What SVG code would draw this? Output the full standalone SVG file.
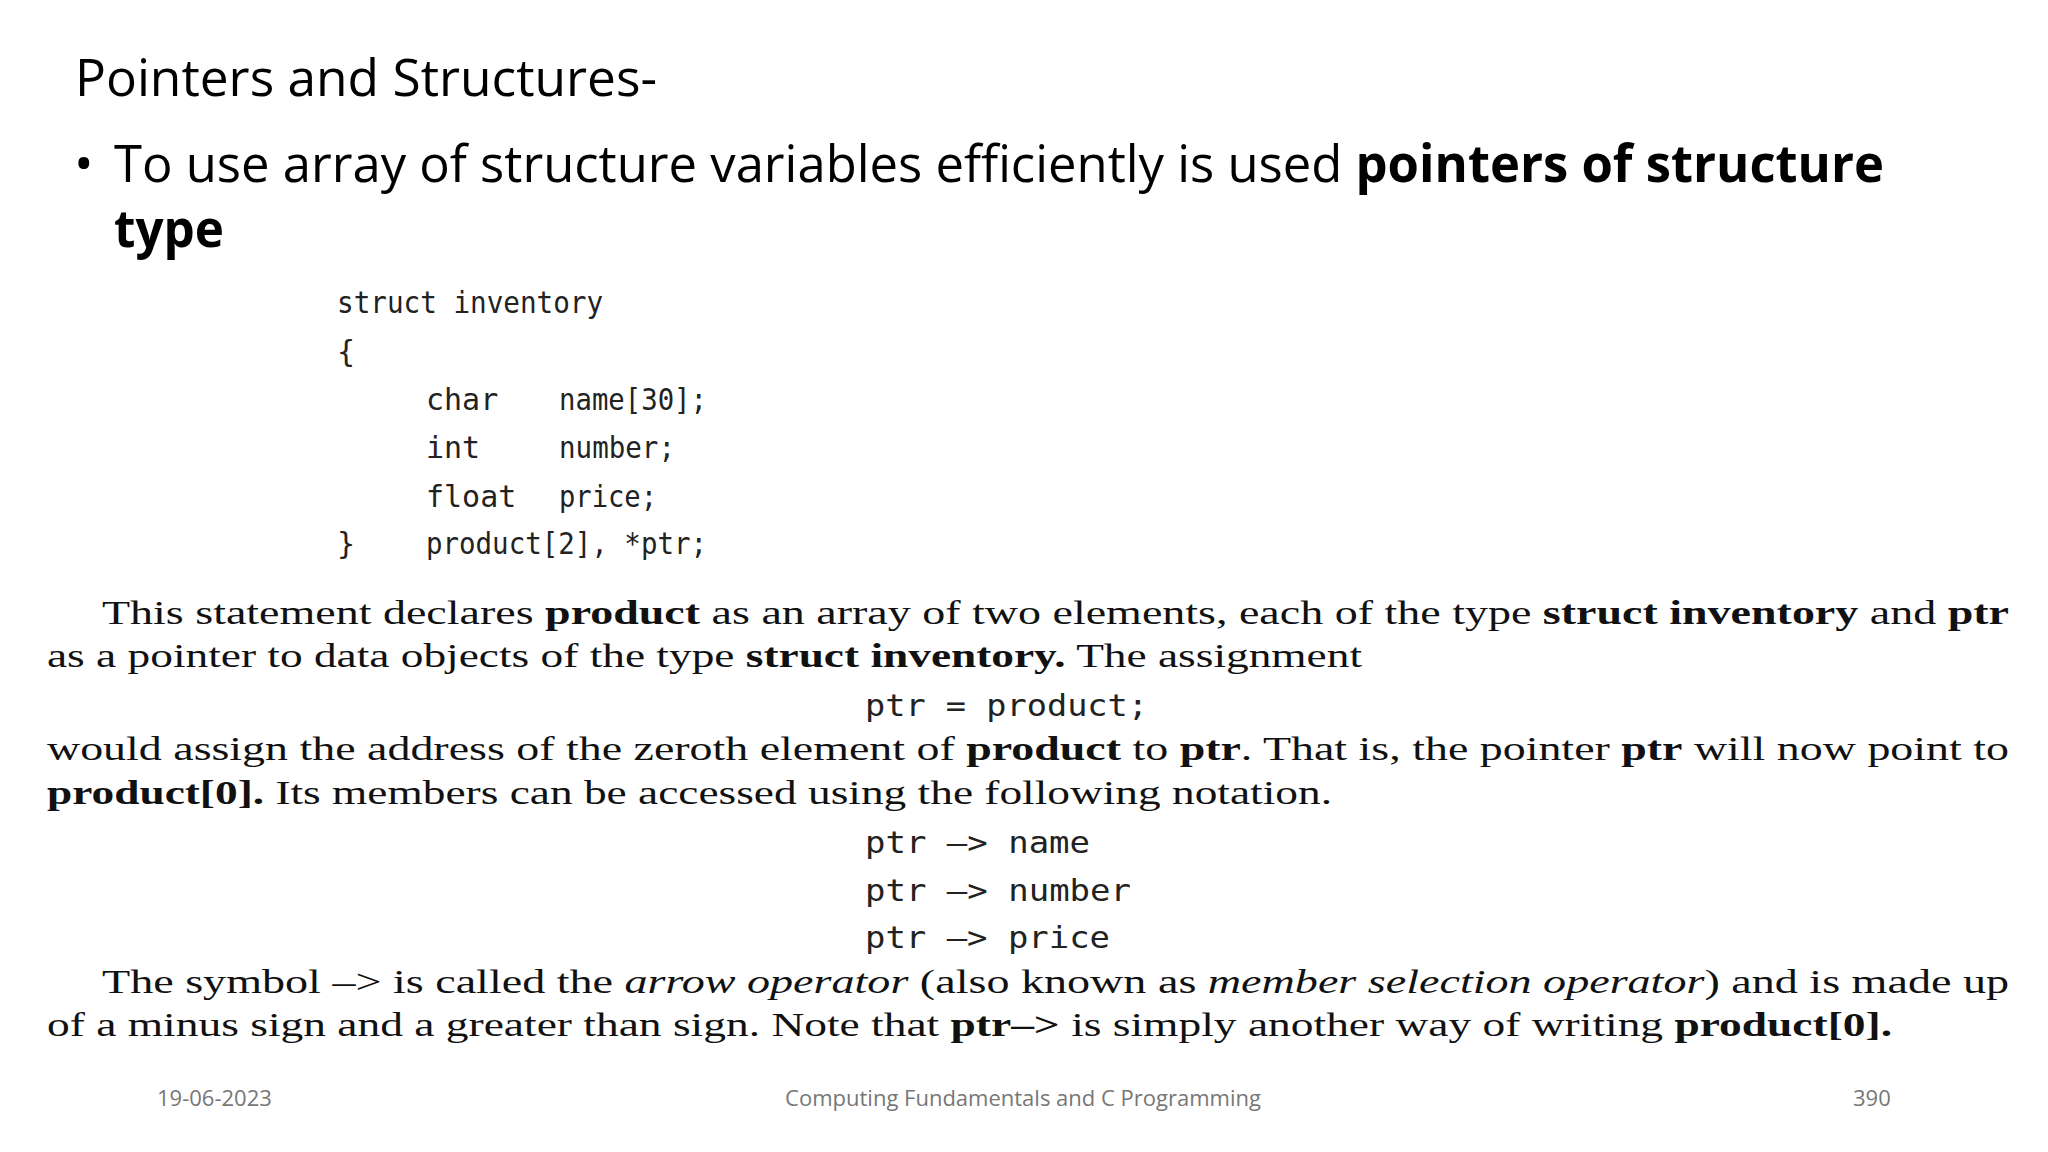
<svg xmlns="http://www.w3.org/2000/svg" width="2048" height="1152" viewBox="0 0 2048 1152">
<style>
.h{font-family:"Open Sans","Noto Sans",sans-serif;fill:#000}
.c{font-family:"DejaVu Sans Mono","Liberation Mono",monospace;font-size:30px;fill:#222}
.s{font-family:"Liberation Serif",serif;font-size:34px;fill:#111}
.b{font-weight:bold}
.f{font-family:"Open Sans","Noto Sans",sans-serif;font-size:22px;fill:#777}
</style>
<rect width="2048" height="1152" fill="#fff"/>
<text class="h" x="75" y="96" font-size="52" textLength="582" lengthAdjust="spacingAndGlyphs">Pointers and Structures-</text>
<text class="h" x="74" y="182" font-size="52">•</text>
<text class="h" x="114" y="182" font-size="52" textLength="1770" lengthAdjust="spacingAndGlyphs">To use array of structure variables efficiently is used <tspan font-weight="bold">pointers of structure</tspan></text>
<text class="h b" x="114" y="247" font-size="52" textLength="110" lengthAdjust="spacingAndGlyphs">type</text>
<g class="c">
<text x="337" y="313" textLength="266" lengthAdjust="spacingAndGlyphs">struct inventory</text>
<text x="337" y="362">{</text>
<text x="426" y="410">char</text><text x="559" y="410" textLength="148" lengthAdjust="spacingAndGlyphs">name[30];</text>
<text x="426" y="458">int</text><text x="559" y="458" textLength="116" lengthAdjust="spacingAndGlyphs">number;</text>
<text x="426" y="507">float</text><text x="559" y="507" textLength="98" lengthAdjust="spacingAndGlyphs">price;</text>
<text x="337" y="554">}</text><text x="426" y="554" textLength="281" lengthAdjust="spacingAndGlyphs">product[2], *ptr;</text>
<text x="865" y="716" textLength="283" lengthAdjust="spacingAndGlyphs">ptr = product;</text>
<text x="865" y="853" textLength="225" lengthAdjust="spacingAndGlyphs">ptr –&gt; name</text>
<text x="865" y="901" textLength="266" lengthAdjust="spacingAndGlyphs">ptr –&gt; number</text>
<text x="865" y="948" textLength="245" lengthAdjust="spacingAndGlyphs">ptr –&gt; price</text>
</g>
<g class="s">
<text x="102" y="624" textLength="1907" lengthAdjust="spacingAndGlyphs">This statement declares <tspan class="b">product</tspan> as an array of two elements, each of the type <tspan class="b">struct inventory</tspan> and <tspan class="b">ptr</tspan></text>
<text x="47" y="667" textLength="1315" lengthAdjust="spacingAndGlyphs">as a pointer to data objects of the type <tspan class="b">struct inventory.</tspan> The assignment</text>
<text x="47" y="760" textLength="1962" lengthAdjust="spacingAndGlyphs">would assign the address of the zeroth element of <tspan class="b">product</tspan> to <tspan class="b">ptr</tspan>. That is, the pointer <tspan class="b">ptr</tspan> will now point to</text>
<text x="47" y="804" textLength="1285" lengthAdjust="spacingAndGlyphs"><tspan class="b">product[0].</tspan> Its members can be accessed using the following notation.</text>
<text x="102" y="993" textLength="1907" lengthAdjust="spacingAndGlyphs">The symbol –&gt; is called the <tspan font-style="italic">arrow operator</tspan> (also known as <tspan font-style="italic">member selection operator</tspan>) and is made up</text>
<text x="47" y="1036" textLength="1845" lengthAdjust="spacingAndGlyphs">of a minus sign and a greater than sign. Note that <tspan class="b">ptr–&gt;</tspan> is simply another way of writing <tspan class="b">product[0].</tspan></text>
</g>
<text class="f" x="157" y="1106">19-06-2023</text>
<text class="f" x="1023" y="1106" text-anchor="middle">Computing Fundamentals and C Programming</text>
<text class="f" x="1853" y="1106">390</text>
</svg>
